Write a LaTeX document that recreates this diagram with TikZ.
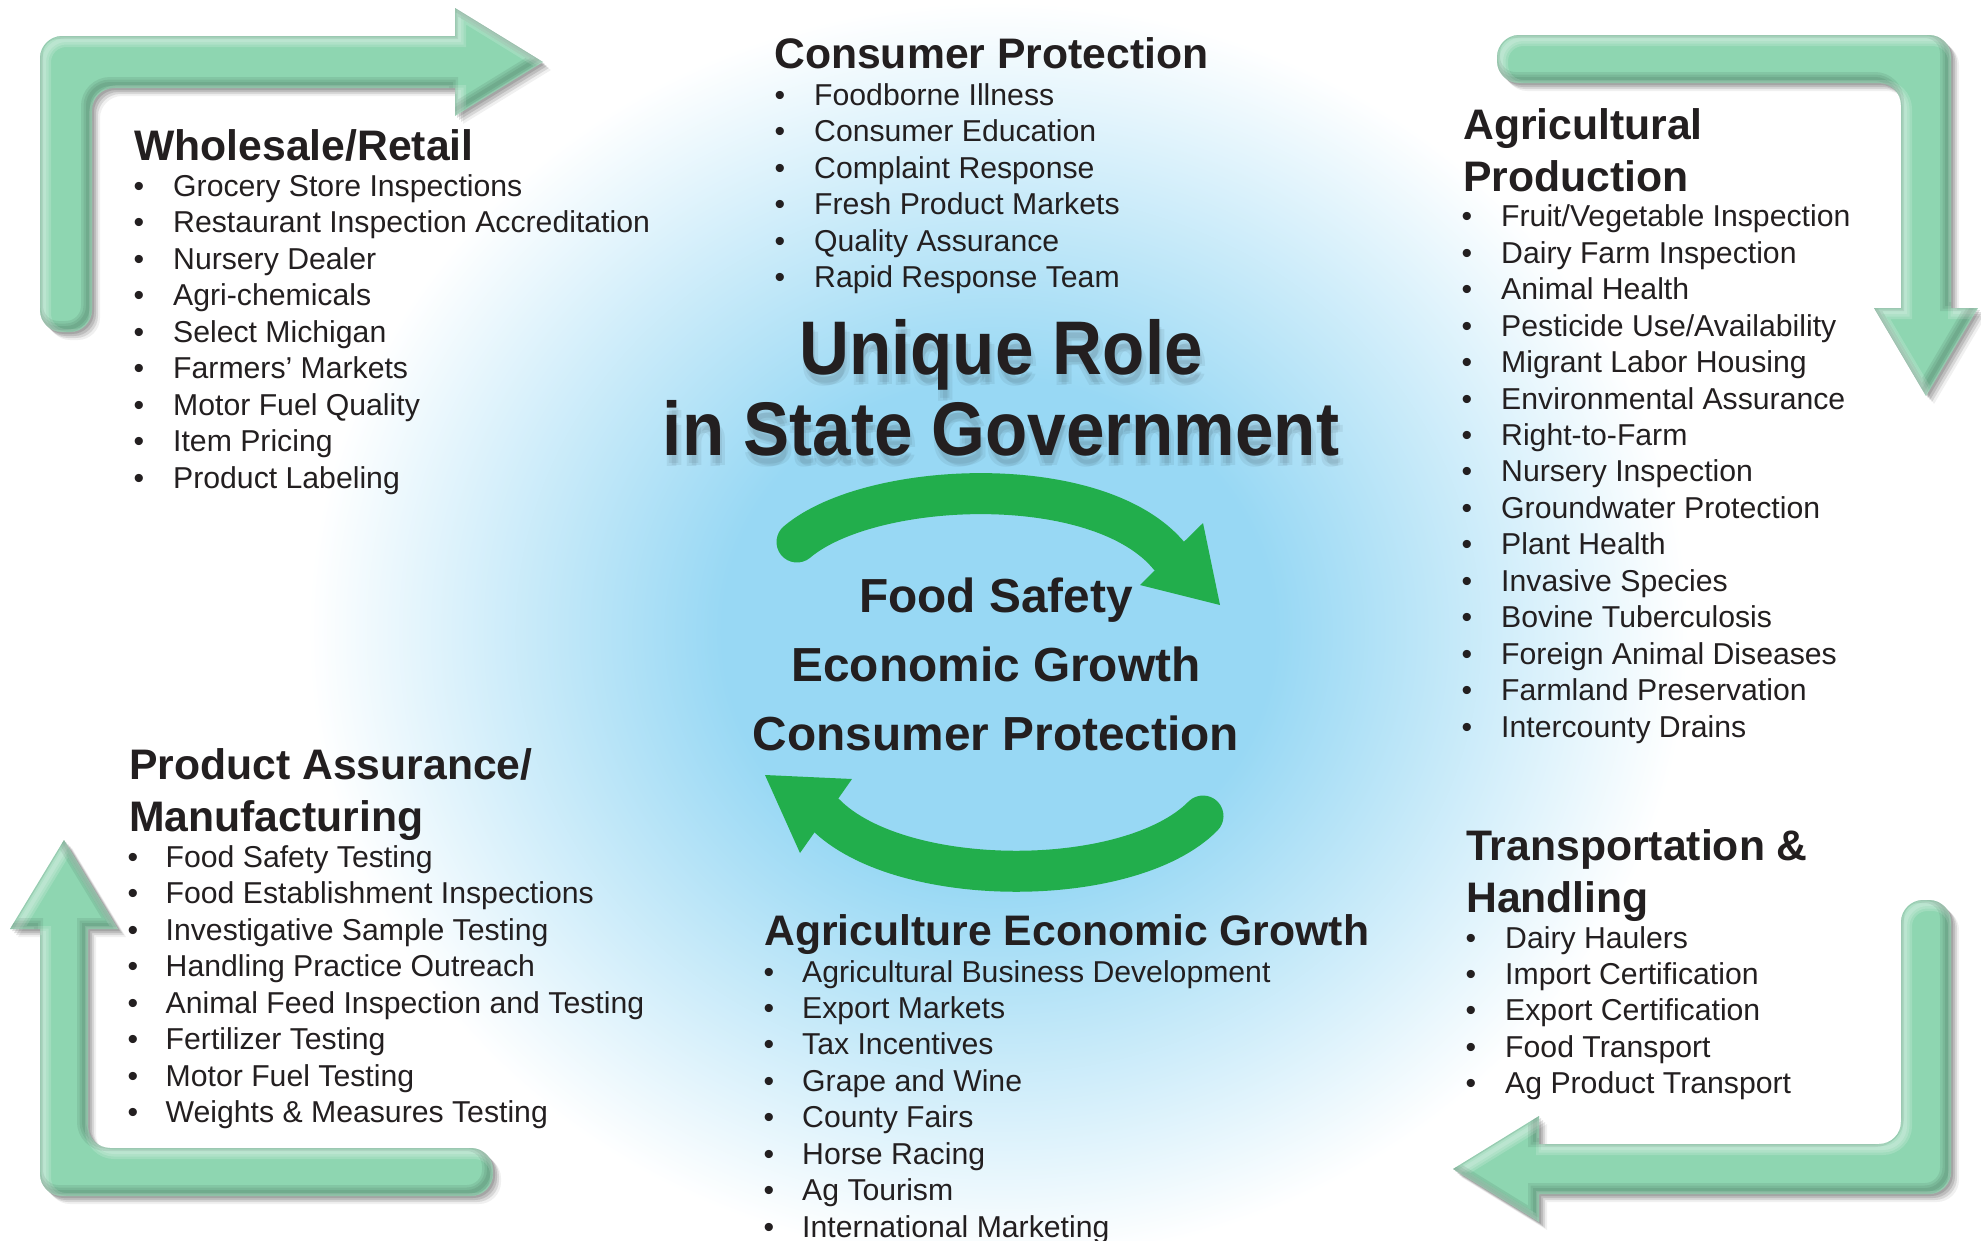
\documentclass[tikz,border=0pt]{standalone}
\usepackage{fontspec}
\setmainfont{Liberation Sans}
\definecolor{txt}{RGB}{35,31,32}
\definecolor{bgblue}{RGB}{152,216,244}
\definecolor{mint}{RGB}{142,214,177}
\definecolor{cgreen}{RGB}{34,174,76}
\pgfdeclareradialshading{glow}{\pgfpoint{0bp}{0bp}}{color(0bp)=(bgblue); color(10bp)=(bgblue); color(25bp)=(white); color(50bp)=(white)}
\tikzset{
  hdr/.style={font=\bfseries\fontsize{42.7}{50}\selectfont, text=txt, inner sep=0pt, anchor=base west},
  itm/.style={font=\fontsize{30.2}{36}\selectfont, text=txt, inner sep=0pt, anchor=base west},
  bul/.style={font=\fontsize{30.2}{36}\selectfont, text=txt, inner sep=0pt, anchor=base},
  ctr/.style={font=\bfseries\fontsize{47.8}{54}\selectfont, text=txt, inner sep=0pt, anchor=base},
  ttl/.style={font=\bfseries\fontsize{76}{90}\selectfont, text=txt, inner sep=0pt, anchor=base},
  cyc/.style={draw=cgreen, line width=41pt, line cap=round},
  cychead/.style={fill=cgreen}
}
\newcommand\blist[5]{\foreach \t [count=\i from 0] in {#5} {%
  \node[bul] (#1b\i) at (#2,{#4+36.45*\i}) {\textbullet};
  \node[itm] (#1\i) at (#3,{#4+36.45*\i}) {\t};}}
% outlines of the four corner arrows
\newcommand\armTL[1]{\path[#1] (40,310) -- (40,58) .. controls (40,46) and (50,36) .. (62,36)
  -- (455,36) -- (455,8) -- (543,62) -- (455,116) -- (455,88)
  -- (114,88) .. controls (102,88) and (92,98) .. (92,110)
  -- (92,310) .. controls (92,322) and (82,332) .. (70,332)
  -- (62,332) .. controls (50,332) and (40,322) .. (40,310) -- cycle;}
\newcommand\armTR[1]{\path[#1] (1519,35) -- (1929,35) .. controls (1941,35) and (1951,45) .. (1951,57)
  -- (1951,308) -- (1978,308) -- (1926,396) -- (1874,308) -- (1901,308)
  -- (1901,105) .. controls (1901,93) and (1891,83) .. (1879,83)
  -- (1519,83) .. controls (1507,83) and (1497,73) .. (1497,61)
  -- (1497,57) .. controls (1497,45) and (1507,35) .. (1519,35) -- cycle;}
\newcommand\armBL[1]{\path[#1] (40,929) -- (10,929) -- (64,840) -- (118,929) -- (88,929)
  -- (88,1126) .. controls (88,1138) and (98,1148) .. (110,1148)
  -- (471,1148) .. controls (483,1148) and (493,1158) .. (493,1170)
  -- (493,1174) .. controls (493,1186) and (483,1196) .. (471,1196)
  -- (62,1196) .. controls (50,1196) and (40,1186) .. (40,1174) -- cycle;}
\newcommand\armBR[1]{\path[#1] (1901,922) .. controls (1901,910) and (1911,900) .. (1923,900)
  -- (1929,900) .. controls (1941,900) and (1951,910) .. (1951,922)
  -- (1951,1172) .. controls (1951,1184) and (1941,1194) .. (1929,1194)
  -- (1539,1194) -- (1539,1222) -- (1453,1169) -- (1539,1116) -- (1539,1144)
  -- (1879,1144) .. controls (1891,1144) and (1901,1134) .. (1901,1122) -- cycle;}
\newcommand\fancyarm[1]{%
  \foreach \d/\op in {2/0.12,4/0.12,6/0.1,8/0.06} {%
    \begin{scope}[shift={(\d,\d)}]#1{fill=black, opacity=\op}\end{scope}}
  #1{fill=mint}
  \begin{scope}
    #1{clip}
    \foreach \w in {4,9,14} {%
      \begin{scope}[shift={(4,4)}]#1{draw=white, line width=\w pt, opacity=0.16}\end{scope}
      \begin{scope}[shift={(-4,-4)}]#1{draw=black, line width=\w pt, opacity=0.07}\end{scope}}
  \end{scope}}
\begin{document}
\begin{tikzpicture}[x=1pt,y=-1pt]
\useasboundingbox (0,0) rectangle (1981,1240);
\fill[white] (0,0) rectangle (1981,1240);
% background glow
\shade[shading=glow] (998,632) ellipse [x radius=690pt, y radius=630pt];
% corner arrows
\fancyarm{\armTL}
\fancyarm{\armTR}
\fancyarm{\armBL}
\fancyarm{\armBR}
% centre cycle arrows
\draw[cyc] (797,542) .. controls (870,480) and (1100,470) .. (1170,557);
\fill[cychead] (1140,585) -- (1220,605) -- (1203,523) -- cycle;
\draw[cyc] (1203,816) .. controls (1130,890) and (900,890) .. (825,814);
\fill[cychead] (852,779) -- (765,775) -- (800,853) -- cycle;
% title shadow
\foreach \dx/\dy [count=\k] in {2/8,5/10,0/11} {
  \node[ttl, text=black, text opacity=0.06] (ts1\k) at ({1001+\dx},{374+\dy}) {\scalebox{0.91}[1]{Unique Role}};
  \node[ttl, text=black, text opacity=0.06] (ts2\k) at ({1001+\dx},{455+\dy}) {\scalebox{0.91}[1]{in State Government}};
}
\node[ttl] (t1) at (1001,374) {\scalebox{0.91}[1]{Unique Role}};
\node[ttl] (t2) at (1001,455) {\scalebox{0.91}[1]{in State Government}};
% centre text
\node[ctr] (c1) at (996,612) {Food Safety};
\node[ctr] (c2) at (996,681) {Economic Growth};
\node[ctr] (c3) at (996,750) {Consumer Protection};
% headers
\node[hdr] (hwr) at (134,160) {Wholesale/Retail};
\node[hdr] (hcp) at (774,68) {Consumer Protection};
\node[hdr] (hap1) at (1463,139) {Agricultural};
\node[hdr] (hap2) at (1463,191) {Production};
\node[hdr] (hpa1) at (129,779.5) {Product Assurance/};
\node[hdr] (hpa2) at (129,831) {Manufacturing};
\node[hdr] (hth1) at (1466,860) {Transportation \&};
\node[hdr] (hth2) at (1466,912) {Handling};
\node[hdr] (hae) at (764,945) {Agriculture Economic Growth};
% lists
\blist{wr}{139}{173}{196.5}{Grocery Store Inspections,Restaurant Inspection Accreditation,Nursery Dealer,Agri-chemicals,Select Michigan,Farmers’ Markets,Motor Fuel Quality,Item Pricing,Product Labeling}
\blist{cp}{780}{814}{105.5}{Foodborne Illness,Consumer Education,Complaint Response,Fresh Product Markets,Quality Assurance,Rapid Response Team}
\blist{ap}{1467}{1501}{226.8}{Fruit/Vegetable Inspection,Dairy Farm Inspection,Animal Health,Pesticide Use/Availability,Migrant Labor Housing,Environmental Assurance,Right-to-Farm,Nursery Inspection,Groundwater Protection,Plant Health,Invasive Species,Bovine Tuberculosis,Foreign Animal Diseases,Farmland Preservation,Intercounty Drains}
\blist{pa}{133}{165.5}{867.3}{Food Safety Testing,Food Establishment Inspections,Investigative Sample Testing,Handling Practice Outreach,Animal Feed Inspection and Testing,Fertilizer Testing,Motor Fuel Testing,Weights \& Measures Testing}
\blist{th}{1471}{1505}{948}{Dairy Haulers,Import Certification,Export Certification,Food Transport,Ag Product Transport}
\blist{ae}{769}{802}{982}{Agricultural Business Development,Export Markets,Tax Incentives,Grape and Wine,County Fairs,Horse Racing,Ag Tourism,International Marketing}
\end{tikzpicture}
\end{document}
